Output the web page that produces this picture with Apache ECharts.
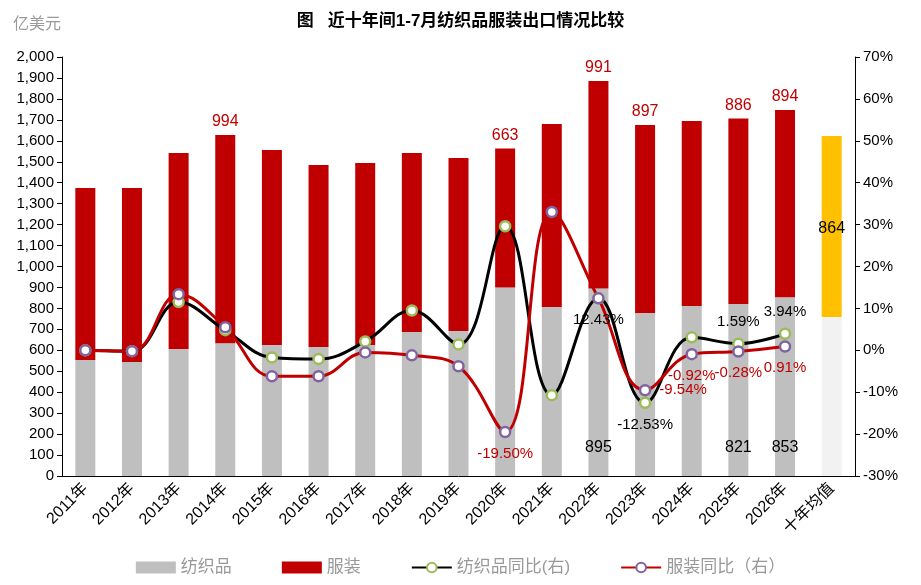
<!DOCTYPE html>
<html><head><meta charset="utf-8">
<script src="https://cdn.jsdelivr.net/npm/echarts@6/dist/echarts.min.js"></script>
<style>body{margin:0}#c{width:921px;height:585px}</style></head>
<body><div id="c"></div>
<script>
var years = ["2011年","2012年","2013年","2014年","2015年","2016年","2017年","2018年","2019年","2020年","2021年","2022年","2023年","2024年","2025年","2026年","十年均值"];
var textile = [554,544,606,634,625,616,625,687,692,900,807,895,778,811,821,853,759];
var apparel = [821,831,936,994,931,868,869,855,826,663,873,991,897,883,886,894,864];
var textileYoy = [0.0,-0.2,11.5,4.8,-1.7,-2.1,2.1,9.5,1.4,29.6,-10.7,12.43,-12.53,3.1,1.59,3.94,null];
var apparelYoy = [0.0,-0.2,13.4,5.5,-6.2,-6.2,-0.5,-1.2,-3.8,-19.5,33.0,12.4,-9.54,-0.92,-0.28,0.91,null];
var apparelLabelIdx = [3,9,11,12,14,15];
var textileLabelIdx = [11,14,15];
var textileYoyLabelPos = { 11: "bottom", 12: "bottom", 14: "top", 15: "top" };
var apparelYoyLabelPos = { 9: "bottom", 12: "right", 13: "bottom", 14: "bottom", 15: "bottom" };

var chart = echarts.init(document.getElementById("c"));
var font = "Arial, 'Noto Sans CJK SC', sans-serif";

function labeled(arr, idx, lab) {
  return arr.map(function (v, i) {
    return idx.indexOf(i) >= 0 ? { value: v, label: lab } : v;
  });
}
function pctLabeled(arr, posMap, color) {
  return arr.map(function (v, i) {
    if (!posMap[i]) return v;
    return { value: v, label: { show: true, position: posMap[i], distance: 8, color: color, fontSize: 15,
      formatter: function (p) { return p.value.toFixed(2) + "%"; } } };
  });
}

var textileData = labeled(textile, textileLabelIdx, { show: true, position: "insideBottom", distance: 20, color: "#000", fontSize: 16 });
textileData[16] = { value: textile[16], itemStyle: { color: "#f2f2f2" } };
var apparelData = labeled(apparel, apparelLabelIdx, { show: true, position: "top", color: "#c00000", fontSize: 16 });
apparelData[16] = { value: apparel[16], itemStyle: { color: "#ffc000" }, label: { show: true, position: "insideBottom", distance: 80, color: "#000", fontSize: 16 } };

chart.setOption({
  textStyle: { fontFamily: font },
  title: [
    { text: "图   近十年间1-7月纺织品服装出口情况比较", left: "center", top: 8, textStyle: { fontSize: 17, fontWeight: "bold", color: "#000" } },
    { text: "亿美元", left: 8, top: 12, textStyle: { fontSize: 16, fontWeight: "normal", color: "#999" } }
  ],
  legend: {
    bottom: 4, left: "center", itemGap: 50, itemWidth: 40, itemHeight: 12,
    textStyle: { fontSize: 17, color: "#999" },
    data: [
      { name: "纺织品", icon: "rect" }, { name: "服装", icon: "rect" },
      { name: "纺织品同比(右)" }, { name: "服装同比（右）" }
    ]
  },
  grid: { left: 62, right: 66, top: 57, bottom: 109 },
  xAxis: {
    type: "category", data: years,
    axisLine: { lineStyle: { color: "#000" } }, axisTick: { show: false },
    axisLabel: { rotate: 45, color: "#000", fontSize: 16, interval: 0, margin: 10 }
  },
  yAxis: [
    { type: "value", min: 0, max: 2000, interval: 100, splitLine: { show: false },
      axisLine: { show: true, lineStyle: { color: "#000" } }, axisTick: { show: true },
      axisLabel: { color: "#000", fontSize: 15, formatter: function (v) { return v.toLocaleString("en-US"); } } },
    { type: "value", min: -30, max: 70, interval: 10, splitLine: { show: false },
      axisLine: { show: true, lineStyle: { color: "#000" } }, axisTick: { show: true },
      axisLabel: { color: "#000", fontSize: 15, formatter: "{value}%" } }
  ],
  series: [
    { name: "纺织品", type: "bar", stack: "a", barWidth: 20, itemStyle: { color: "#bfbfbf" }, data: textileData },
    { name: "服装", type: "bar", stack: "a", itemStyle: { color: "#c00000" }, data: apparelData },
    { name: "纺织品同比(右)", type: "line", yAxisIndex: 1, smooth: 0.4, symbol: "circle", symbolSize: 10,
      lineStyle: { color: "#000", width: 3 }, itemStyle: { color: "#fff", borderColor: "#9bbb59", borderWidth: 2.5 },
      data: pctLabeled(textileYoy, textileYoyLabelPos, "#000") },
    { name: "服装同比（右）", type: "line", yAxisIndex: 1, smooth: 0.4, symbol: "circle", symbolSize: 10,
      lineStyle: { color: "#c00000", width: 3 }, itemStyle: { color: "#fff", borderColor: "#8064a2", borderWidth: 2.5 },
      data: pctLabeled(apparelYoy, apparelYoyLabelPos, "#c00000") }
  ]
});
</script></body></html>
